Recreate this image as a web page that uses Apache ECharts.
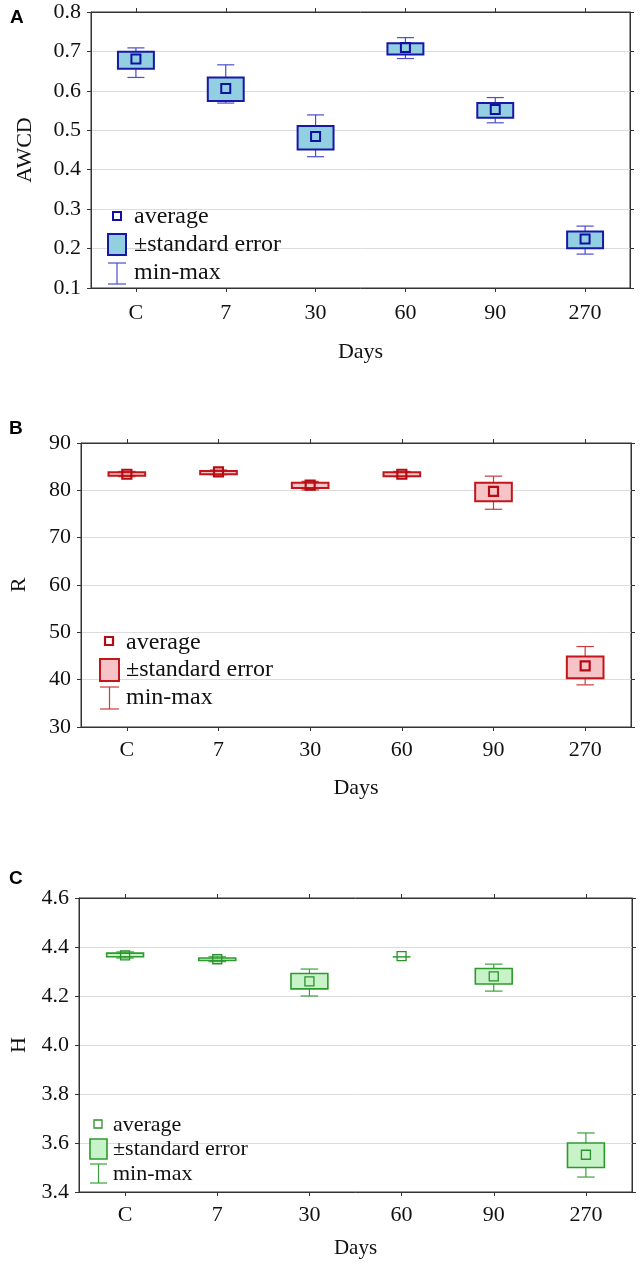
<!DOCTYPE html>
<html>
<head>
<meta charset="utf-8">
<script src="https://cdn.jsdelivr.net/npm/echarts@6/dist/echarts.min.js"></script>
<style>
html,body{margin:0;padding:0;background:#fff;}
#chart{width:640px;height:1267px;}
</style>
</head>
<body>
<div id="chart"></div>
<script>
// ---------- data ----------
const categories = ['C', '7', '30', '60', '90', '270'];

// Panel A: AWCD
const awcdMin    = [0.634, 0.569, 0.433, 0.682, 0.519, 0.186];
const awcdSeLow  = [0.656, 0.574, 0.451, 0.692, 0.532, 0.201];
const awcdSeHigh = [0.699, 0.634, 0.511, 0.721, 0.569, 0.243];
const awcdMax    = [0.709, 0.666, 0.539, 0.735, 0.583, 0.257];
const awcdMean   = [0.681, 0.606, 0.484, 0.710, 0.553, 0.224];

// Panel B: R
const rMin    = [82.9, 83.3, 80.1, 82.9, 76.0, 38.9];
const rSeLow  = [83.1, 83.4, 80.5, 83.0, 77.7, 40.3];
const rSeHigh = [83.8, 84.1, 81.6, 83.8, 81.6, 44.9];
const rMax    = [84.0, 84.3, 81.9, 84.0, 83.0, 47.0];
const rMean   = [83.4, 83.9, 81.1, 83.4, 79.8, 42.9];

// Panel C: H
const hMin    = [4.355, 4.340, 4.200, 4.360, 4.220, 3.461];
const hSeLow  = [4.360, 4.345, 4.229, 4.360, 4.249, 3.500];
const hSeHigh = [4.375, 4.355, 4.292, 4.360, 4.312, 3.600];
const hMax    = [4.380, 4.360, 4.310, 4.360, 4.330, 3.641];
const hMean   = [4.366, 4.350, 4.260, 4.363, 4.280, 3.552];

const legendLabels = ['average', '\u00B1standard error', 'min-max'];

// ---------- styles ----------
const SERIF = '"Liberation Serif", "DejaVu Serif", serif';
const styles = [
  {fill: '#92cfe0', border: '#1818a8', whisker: '#4c4cd0', marker: '#1010a0', boxW: 2, markW: 2, ms: 9},
  {fill: '#f6c4c6', border: '#c0161c', whisker: '#cc3a3a', marker: '#b40c12', boxW: 2, markW: 2.2, ms: 9},
  {fill: '#c8f2c8', border: '#2c9a2c', whisker: '#3ca03c', marker: '#2a922a', boxW: 1.6, markW: 1.3, ms: 9}
];

function buildData(mn, lo, hi, mx, mean) {
  return categories.map((c, i) => [i, mn[i], lo[i], hi[i], mx[i], mean[i]]);
}

function makeRender(st) {
  return function (params, api) {
    const x = api.value(0);
    const pMin = api.coord([x, api.value(1)]);
    const pLo = api.coord([x, api.value(2)]);
    const pHi = api.coord([x, api.value(3)]);
    const pMax = api.coord([x, api.value(4)]);
    const pMean = api.coord([x, api.value(5)]);
    const band = api.size([1, 0])[0];
    const bw = band * 0.4;
    const cw = band * 0.19;
    const cx = pMean[0];
    const ch = [];
    const ws = {stroke: st.whisker, lineWidth: 1.2, fill: null};
    ch.push({type: 'line', shape: {x1: cx, y1: pMax[1], x2: cx, y2: pMin[1]}, style: ws});
    ch.push({type: 'line', shape: {x1: cx - cw / 2, y1: pMax[1], x2: cx + cw / 2, y2: pMax[1]}, style: ws});
    ch.push({type: 'line', shape: {x1: cx - cw / 2, y1: pMin[1], x2: cx + cw / 2, y2: pMin[1]}, style: ws});
    if (Math.abs(pLo[1] - pHi[1]) > 0.5) {
      ch.push({type: 'rect', shape: {x: cx - bw / 2, y: pHi[1], width: bw, height: pLo[1] - pHi[1]},
        style: {fill: st.fill, stroke: st.border, lineWidth: st.boxW}});
    }
    ch.push({type: 'rect', shape: {x: cx - st.ms / 2, y: pMean[1] - st.ms / 2, width: st.ms, height: st.ms},
      style: {fill: 'rgba(0,0,0,0)', stroke: st.marker, lineWidth: st.markW}});
    return {type: 'group', children: ch};
  };
}

// ---------- layout ----------
const grids = [
  {left: 91, top: 12, width: 539, height: 276},
  {left: 79, top: 443, width: 552, height: 284},
  {left: 77, top: 898, width: 555, height: 294}
];
const yCfg = [
  {min: 0.1, max: 0.8, interval: 0.1, dec: 1, name: 'AWCD', nameGap: 55},
  {min: 30, max: 90, interval: 10, dec: 0, name: 'R', nameGap: 51},
  {min: 3.4, max: 4.6, interval: 0.2, dec: 1, name: 'H', nameGap: 49}
];
const xNameGap = [53, 50, 46];
const xLabelMargin = [14, 12, 12];

const option = {
  backgroundColor: '#fff',
  animation: false,
  grid: grids.map(g => Object.assign({show: true, borderColor: '#333', borderWidth: 1, containLabel: false}, g)),
  xAxis: [],
  yAxis: [],
  series: [],
  graphic: []
};

const axisLineStyle = {lineStyle: {color: '#333', width: 1}};
for (let k = 0; k < 3; k++) {
  option.xAxis.push({
    type: 'category', gridIndex: k, data: categories, position: 'bottom',
    axisLine: axisLineStyle,
    axisTick: {show: true, alignWithLabel: true, length: 4, lineStyle: {color: '#333'}},
    axisLabel: {color: '#111', fontFamily: SERIF, fontSize: 22, margin: xLabelMargin[k]},
    name: 'Days', nameLocation: 'middle', nameGap: xNameGap[k],
    nameTextStyle: {color: '#111', fontFamily: SERIF, fontSize: k === 2 ? 21 : 22}
  });
  option.xAxis.push({
    type: 'category', gridIndex: k, data: categories, position: 'top',
    axisLine: axisLineStyle,
    axisTick: {show: true, alignWithLabel: true, length: 4, lineStyle: {color: '#333'}},
    axisLabel: {show: false}
  });
  const y = yCfg[k];
  option.yAxis.push({
    type: 'value', gridIndex: k, min: y.min, max: y.max, interval: y.interval, position: 'left',
    axisLine: {show: true, lineStyle: {color: '#333', width: 1}},
    axisTick: {show: true, length: 4, lineStyle: {color: '#333'}},
    splitLine: {show: true, lineStyle: {color: '#dcdcdc', width: 1}},
    axisLabel: {color: '#111', fontFamily: SERIF, fontSize: 22, margin: 10,
      formatter: v => Number(v).toFixed(y.dec)},
    name: y.name, nameLocation: 'middle', nameRotate: 90, nameGap: y.nameGap,
    nameTextStyle: {color: '#111', fontFamily: SERIF, fontSize: 22}
  });
  option.yAxis.push({
    type: 'value', gridIndex: k, min: y.min, max: y.max, interval: y.interval, position: 'right',
    axisLine: {show: true, lineStyle: {color: '#333', width: 1}},
    axisTick: {show: true, length: 4, lineStyle: {color: '#333'}},
    splitLine: {show: false},
    axisLabel: {show: false}
  });
}

const datasets = [
  buildData(awcdMin, awcdSeLow, awcdSeHigh, awcdMax, awcdMean),
  buildData(rMin, rSeLow, rSeHigh, rMax, rMean),
  buildData(hMin, hSeLow, hSeHigh, hMax, hMean)
];
datasets.forEach((d, k) => {
  option.series.push({
    type: 'custom', name: yCfg[k].name, xAxisIndex: k * 2, yAxisIndex: k * 2,
    renderItem: makeRender(styles[k]),
    encode: {x: 0, y: [1, 2, 3, 4, 5]},
    data: d, z: 5
  });
});

// ---------- panel letters ----------
const letters = [['A', 10, 8], ['B', 9, 419], ['C', 9, 869]];
letters.forEach(l => option.graphic.push({
  type: 'text', left: l[1], top: l[2],
  style: {text: l[0], font: 'bold 19px "Liberation Sans", Arial, sans-serif', fill: '#000'}
}));

// ---------- legends (drawn as graphics) ----------
const legendLayout = [
  {mx: 117, my: 216, bx: 108, bw: 18, by: 234, bh: 21, wy1: 263, wy2: 284, tx: 134, ty: [217, 245, 273], fs: 24},
  {mx: 109, my: 641, bx: 100, bw: 19, by: 659, bh: 22, wy1: 687, wy2: 709, tx: 126, ty: [643, 670, 698], fs: 24},
  {mx: 98, my: 1124, bx: 90, bw: 17, by: 1139, bh: 20, wy1: 1164, wy2: 1183, tx: 113, ty: [1125, 1149, 1174], fs: 22}
];
legendLayout.forEach((L, k) => {
  const st = styles[k];
  const ms = 8;
  option.graphic.push({type: 'rect', shape: {x: L.mx - ms / 2, y: L.my - ms / 2, width: ms, height: ms},
    style: {fill: 'rgba(0,0,0,0)', stroke: st.marker, lineWidth: st.markW}, z: 10});
  option.graphic.push({type: 'rect', shape: {x: L.bx, y: L.by, width: L.bw, height: L.bh},
    style: {fill: st.fill, stroke: st.border, lineWidth: st.boxW}, z: 10});
  const cx = L.bx + L.bw / 2;
  const ws = {stroke: st.whisker, lineWidth: 1.2};
  option.graphic.push({type: 'line', shape: {x1: cx, y1: L.wy1, x2: cx, y2: L.wy2}, style: ws, z: 10});
  option.graphic.push({type: 'line', shape: {x1: L.bx, y1: L.wy1, x2: L.bx + L.bw, y2: L.wy1}, style: ws, z: 10});
  option.graphic.push({type: 'line', shape: {x1: L.bx, y1: L.wy2, x2: L.bx + L.bw, y2: L.wy2}, style: ws, z: 10});
  legendLabels.forEach((t, i) => option.graphic.push({
    type: 'text', x: L.tx, y: L.ty[i], z: 10,
    style: {text: t, font: L.fs + 'px ' + SERIF, fill: '#111', textVerticalAlign: 'middle', verticalAlign: 'middle'}
  }));
});

const chart = echarts.init(document.getElementById('chart'), null, {renderer: 'canvas'});
chart.setOption(option);
</script>
</body>
</html>
